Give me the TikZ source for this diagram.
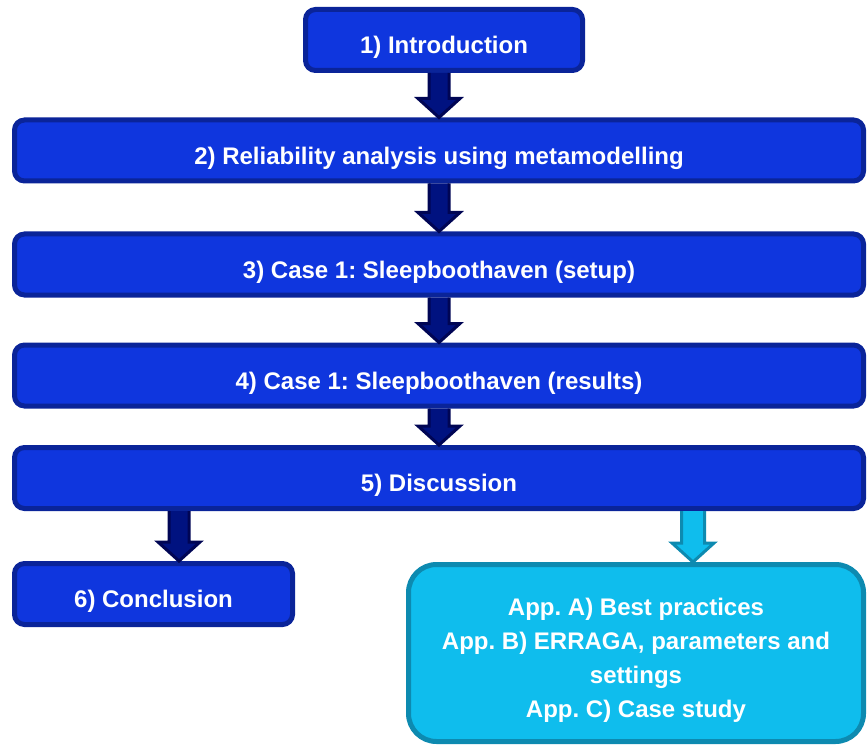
\documentclass[tikz,border=0pt]{standalone}
\usepackage{fontspec}
\setmainfont{Liberation Sans}
\usepackage{tikz}
\usetikzlibrary{calc}
\definecolor{pblue}{rgb}{0.06, 0.21, 0.87}
\definecolor{pblueline}{rgb}{0.04, 0.14, 0.6}
\definecolor{pnavy}{rgb}{0, 0.07, 0.5}
\definecolor{pnavyline}{rgb}{0, 0.02, 0.33}
\definecolor{pcyan}{rgb}{0.06, 0.74, 0.93}
\definecolor{pcyanline}{rgb}{0.05, 0.54, 0.69}
\newcommand{\blockarrow}[4][10]{%
  \filldraw [#2] ($(#3)+(-#1, 0)$) -- ($(#4)+(-#1, -19)$) -- ($(#4)+(-21, -19)$) -- (#4)
    -- ($(#4)+(21, -19)$) -- ($(#4)+(#1, -19)$) -- ($(#3)+(#1, 0)$);}

\begin{document}
\frenchspacing
\begin{tikzpicture}[x=0.75pt, y=-0.75pt,
    box/.style={draw=pblueline, fill=pblue, line width=3.75pt, rounded corners=7.5pt,
      text=white, font=\bfseries\fontsize{18}{21}\selectfont, inner sep=0pt,
      text height=20.5pt, text depth=0pt, minimum height=45.75pt},
    wide/.style={minimum width=636.75pt},
    appbox/.style={box, draw=pcyanline, fill=pcyan, rounded corners=21pt, align=center,
      font=\bfseries\fontsize{18}{25.5}\selectfont, text height=96pt, text depth=0pt,
      minimum width=341.25pt, minimum height=132.75pt},
    darrow/.style={draw=pnavyline, fill=pnavy, line width=2.25pt},
    carrow/.style={draw=pcyanline, fill=pcyan, line width=2.25pt}]
      \useasboundingbox (0, 0) rectangle (867, 745);
      \node [box, minimum width=207.75pt] (intro) at (444, 40) {1) Introduction};
      \node [box, wide] (reli) at (439, 150.5) {2) Reliability analysis using metamodelling};
      \node [box, wide] (setup) at (439, 264.5) {3) Case 1: Sleepboothaven (setup)};
      \node [box, wide] (results) at (439, 375.5) {4) Case 1: Sleepboothaven (results)};
      \node [box, wide] (disc) at (439, 478) {5) Discussion};
      \node [box, minimum width=208.5pt] (conc) at (153.5, 594) {6) Conclusion};
      \node [appbox] (app) at (636, 653) {App. A) Best practices\\App. B) ERRAGA, parameters and\\settings\\App. C) Case study};
      \coordinate (concin) at ($(conc.north)+(25.5, 0)$);
      \coordinate (appin) at ($(app.north)+(57, 0)$);
      \blockarrow{darrow}{reli.north |- intro.south}{reli.north}
      \blockarrow{darrow}{reli.south}{setup.north}
      \blockarrow{darrow}{setup.south}{results.north}
      \blockarrow{darrow}{results.south}{disc.north}
      \blockarrow{darrow}{concin |- disc.south}{concin}
      \blockarrow[11.5]{carrow}{appin |- disc.south}{appin}
    \end{tikzpicture}
\end{document}
